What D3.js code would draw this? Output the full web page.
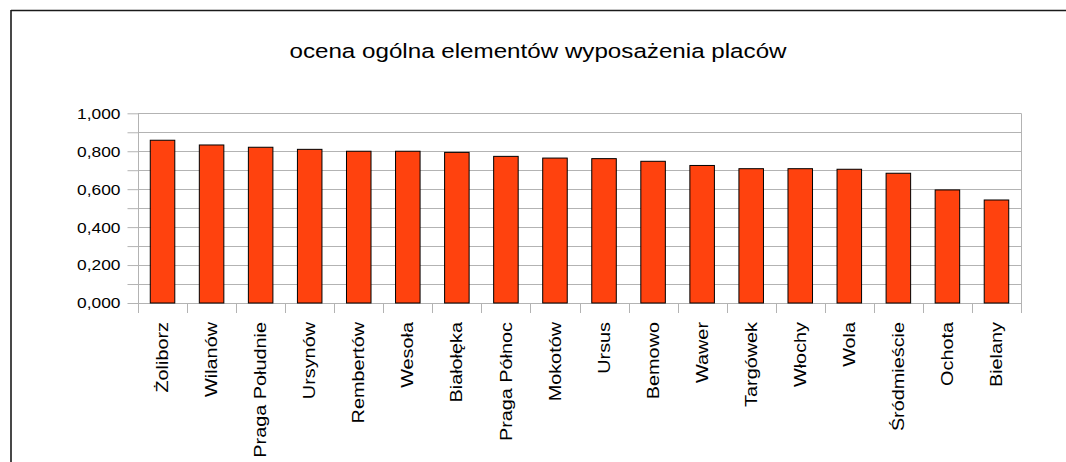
<!DOCTYPE html>
<html>
<head>
<meta charset="utf-8">
<script src="https://cdn.jsdelivr.net/npm/d3@7"></script>
<style>
  html, body { margin: 0; padding: 0; background: #fff; }
  svg { display: block; font-family: "Liberation Sans", Arial, sans-serif; }
</style>
</head>
<body>
<svg id="chart" width="1066" height="462"></svg>
<script>
const title = "ocena ogólna elementów wyposażenia placów";
const districts = ["Żoliborz", "Wilanów", "Praga Południe", "Ursynów", "Rembertów", "Wesoła",
  "Białołęka", "Praga Północ", "Mokotów", "Ursus", "Bemowo", "Wawer", "Targówek", "Włochy",
  "Wola", "Śródmieście", "Ochota", "Bielany"];
const scores = [0.858, 0.833, 0.821, 0.810, 0.800, 0.800, 0.794, 0.773, 0.764, 0.761, 0.747,
  0.725, 0.708, 0.708, 0.705, 0.684, 0.596, 0.543];
const yTicks = [0, 0.1, 0.2, 0.3, 0.4, 0.5, 0.6, 0.7, 0.8, 0.9, 1.0];
const yLabelTicks = [0, 0.2, 0.4, 0.6, 0.8, 1.0];

const svg = d3.select("#chart");
const SX = 1.24; // horizontal text stretch seen in the reference

const plot = { left: 138, right: 1021, top: 113.3, bottom: 303 };

const x = d3.scaleBand().domain(districts).range([plot.left, plot.right])
  .paddingInner(0.5).paddingOuter(0.25);
const y = d3.scaleLinear().domain([0, 1]).range([plot.bottom, plot.top]);

const locale = d3.formatLocale({ decimal: ",", thousands: " ", grouping: [3], currency: ["", ""] });
const fmt = locale.format(".3f");

// outer frame
svg.append("line").attr("x1", 11).attr("x2", 1066).attr("y1", 10.5).attr("y2", 10.5)
  .attr("stroke", "#1a1a1a").attr("stroke-width", 1.6);
svg.append("line").attr("x1", 11).attr("x2", 11).attr("y1", 10).attr("y2", 462)
  .attr("stroke", "#1a1a1a").attr("stroke-width", 1.6);

// title
svg.append("text").text(title)
  .attr("transform", `translate(538,58) scale(${SX},1)`)
  .attr("text-anchor", "middle").attr("font-size", 19.5).attr("fill", "#000");

// gridlines
svg.append("g").selectAll("line").data(yTicks).join("line")
  .attr("x1", plot.left).attr("x2", plot.right)
  .attr("y1", d => Math.round(y(d)) + 0.5).attr("y2", d => Math.round(y(d)) + 0.5)
  .attr("stroke", "#b3b3b3").attr("stroke-width", 1);
// right border of plot
svg.append("line").attr("x1", plot.right + 0.5).attr("x2", plot.right + 0.5)
  .attr("y1", plot.top).attr("y2", plot.bottom + 10)
  .attr("stroke", "#b3b3b3");

// y axis
const yAxis = d3.axisLeft(y).tickValues(yTicks).tickSize(11).tickPadding(7)
  .tickFormat(d => yLabelTicks.some(v => Math.abs(v - d) < 1e-9) ? fmt(d) : "");
const gy = svg.append("g").attr("transform", `translate(${plot.left + 0.5},0)`).call(yAxis);
gy.select(".domain").attr("stroke", "#b3b3b3").attr("d", `M0,${plot.top}V${plot.bottom + 10}`);
gy.selectAll(".tick line").attr("stroke", "#b3b3b3");
gy.selectAll(".tick text")
  .attr("font-family", "Liberation Sans, Arial, sans-serif")
  .attr("font-size", 14).attr("fill", "#000")
  .attr("x", null).attr("dy", "0.35em")
  .attr("transform", `translate(-18,0) scale(${SX},1)`);

// x axis boundary ticks
const step = x.step();
const bounds = d3.range(districts.length + 1).map(i => plot.left + i * step);
svg.append("g").selectAll("line").data(bounds).join("line")
  .attr("x1", d => Math.round(d) + 0.5).attr("x2", d => Math.round(d) + 0.5)
  .attr("y1", plot.bottom).attr("y2", plot.bottom + 10)
  .attr("stroke", "#b3b3b3");

// bars
svg.append("g").selectAll("rect").data(districts).join("rect")
  .attr("x", d => x(d))
  .attr("y", (d, i) => y(scores[i]))
  .attr("width", x.bandwidth())
  .attr("height", (d, i) => y(0) - y(scores[i]))
  .attr("fill", "#ff420e").attr("stroke", "#000").attr("stroke-width", 1);

// x axis labels
const xAxis = d3.axisBottom(x).tickSize(0).tickPadding(0);
const gx = svg.append("g").attr("transform", `translate(0,${plot.bottom})`).call(xAxis);
gx.select(".domain").remove();
gx.selectAll(".tick text")
  .attr("font-family", "Liberation Sans, Arial, sans-serif")
  .attr("font-size", 16).attr("fill", "#000")
  .attr("y", null).attr("dy", "0.35em")
  .attr("text-anchor", "end")
  .attr("transform", `translate(0,19) rotate(-90) scale(${SX},1)`);
</script>
</body>
</html>
